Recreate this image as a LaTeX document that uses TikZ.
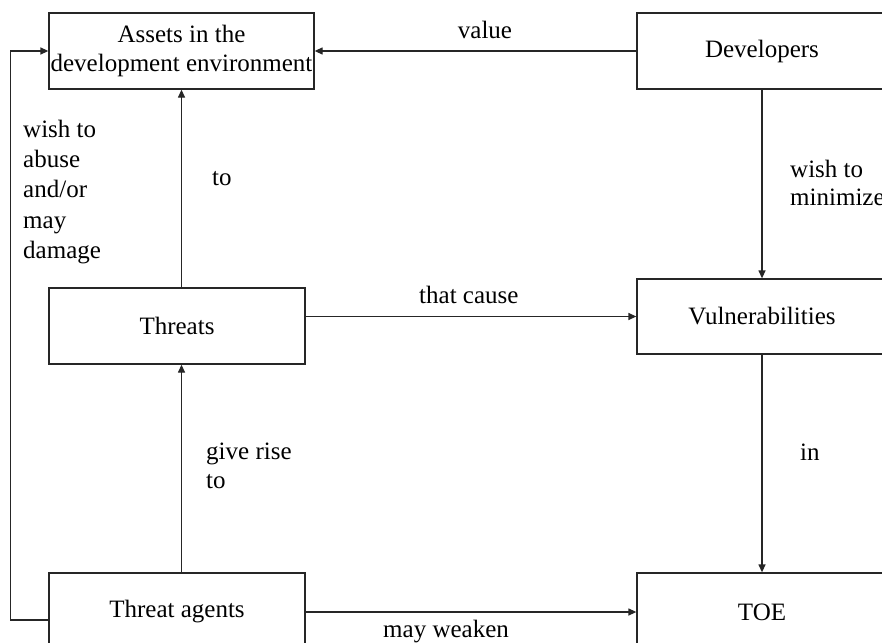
\documentclass[tikz,border=0pt]{standalone}
\usepackage{fontspec}
\setmainfont{Liberation Serif}
\usetikzlibrary{arrows.meta}
\begin{document}
\begin{tikzpicture}[x=1pt,y=-1pt,
  every node/.style={font=\fontsize{25}{29}\selectfont, inner sep=0pt},
  box/.style={draw=black!85, line width=1.3pt, align=center},
  lbl/.style={align=left},
  arr/.style={draw=black!85, line width=1.3pt, -{Triangle[length=8pt,width=7pt]}},
  conn/.style={draw=black!85, line width=1.3pt}]
  \useasboundingbox[fill=white] (0,0) rectangle (882,642);

  % entities
  \node[box, minimum width=265pt, minimum height=76pt] (assets) at (181.5,51)
    {Assets in the\\development environment};
  \node[box, minimum width=250pt, minimum height=76pt] (dev) at (762,51) {Developers};
  \node[box, minimum width=256pt, minimum height=76pt] (threats) at (177,326) {Threats};
  \node[box, minimum width=250pt, minimum height=75pt] (vul) at (762,316.5) {Vulnerabilities};
  \node[box, minimum width=256pt, minimum height=78pt] (ta) at (177,612) {Threat agents};
  \node[box, minimum width=250pt, minimum height=78pt] (toe) at (762,612) {TOE};

  % relations
  \draw[arr] (dev.west) -- (assets.west -| assets.east);
  \draw[arr] (threats.north -| assets.south) -- (assets.south);
  \draw[arr] (threats.east |- vul.west) -- (vul.west);
  \draw[arr] (dev.south) -- (vul.north);
  \draw[arr] (vul.south) -- (toe.north);
  \draw[arr] (ta.north -| assets.south) -- (threats.south -| assets.south);
  \draw[arr] (ta.east |- toe.west) -- (toe.west);
  \draw[arr] ([yshift=-8pt]ta.west) -- ++(-38,0) |- (assets.west);

  % relation labels
  \node[anchor=base] (lvalue) at (485,38) {value};
  \node[anchor=base west] (lcause) at (419,303) {that cause};
  \node[anchor=base west] (lto) at (212,185) {to};
  \node[lbl, anchor=north west, font=\fontsize{25}{30.2}\selectfont] (labuse) at (23,120)
    {wish to\\abuse\\and/or\\may\\damage};
  \node[lbl, anchor=north west, font=\fontsize{25}{28}\selectfont] (lmin) at (790,160)
    {wish to\\minimize};
  \node[lbl, anchor=north west] (lrise) at (206,443) {give rise\\to};
  \node[anchor=base west] (lin) at (800,460) {in};
  \node[anchor=base west] (lweak) at (383,637) {may weaken};
\end{tikzpicture}
\end{document}
